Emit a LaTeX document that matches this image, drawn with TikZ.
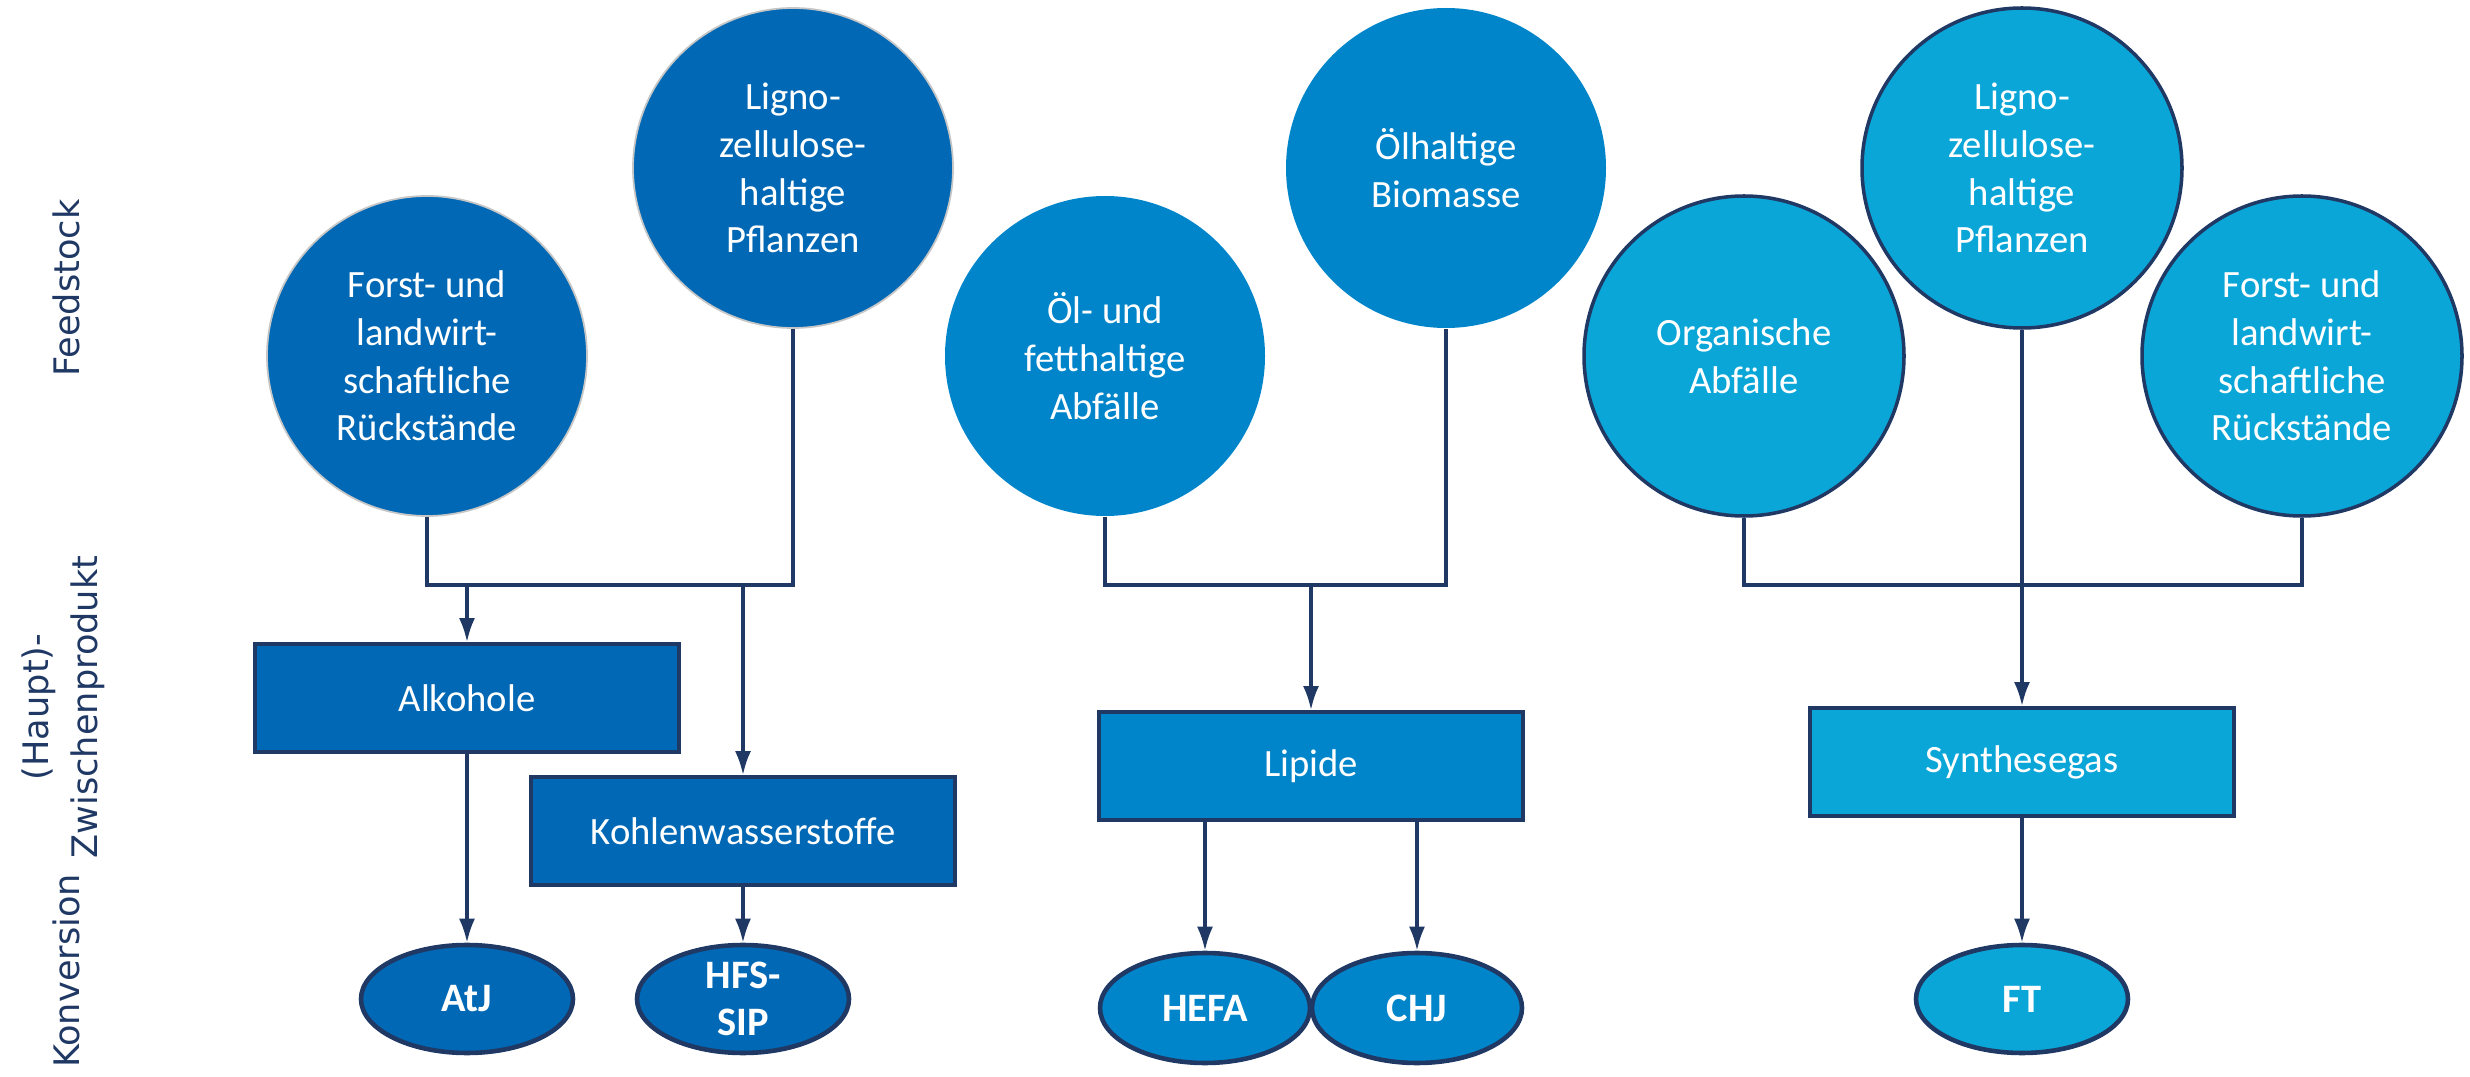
\documentclass[tikz,border=0pt]{standalone}
\usepackage{fontspec}
\setmainfont{Carlito}
\newfontfamily\sidefont{DejaVu Sans}
\usepackage{xcolor}
\usetikzlibrary{shapes.geometric,arrows.meta}
\definecolor{navy}{RGB}{31,56,100}
\definecolor{blueA}{RGB}{0,104,180}
\definecolor{blueB}{RGB}{0,133,202}
\definecolor{blueC}{RGB}{11,166,216}

\begin{document}
\begin{tikzpicture}[
            feed/.style = {circle,
            minimum size = 3.2cm,
            inner sep = 0pt,
            text = white, align = center,
            font = \fontsize{11}{13.6}\selectfont},
            prod/.style = {rectangle,
            draw = navy, line width = 1.1pt,
            minimum width = 4.24cm, minimum height = 1.08cm,
            text = white,
            font = \fontsize{11}{13.6}\selectfont},
            conv/.style = {ellipse,
            draw = navy, line width = 1.3pt,
            minimum width = 2.12cm, minimum height = 1.08cm,
            inner sep = 0pt,
            text = white, align = center,
            font = \fontsize{11.5}{13.4}\selectfont\bfseries},
            side/.style = {rotate = 90, text = navy, align = center,
            font = \sidefont\fontsize{10}{13.8}\selectfont},
            link/.style = {draw = navy, line width = 0.9pt},
            arr/.style = {link, -{Latex[length=2.4mm,width=1.6mm]}}]
        \useasboundingbox (0,0) rectangle (24.70,10.76);

        % Row labels
        \node[side] (lblFeed) at (0.66,7.88) {Feedstock};
        \node[side] (lblZw) at (0.635,3.69) {(Haupt)-\\Zwischenprodukt};
        \node[side] (lblKonv) at (0.66,1.05) {Konversion};

        % Feedstock
        \node[feed, fill=blueA, draw=gray!45, line width=0.5pt] (forstL) at (4.27,7.20) {Forst- und\\landwirt-\\schaftliche\\Rückstände};
        \node[feed, fill=blueA, draw=gray!45, line width=0.5pt] (lignoL) at (7.93,9.08) {Ligno-\\zellulose-\\haltige\\Pflanzen};
        \node[feed, fill=blueB] (oelAbf) at (11.05,7.20) {Öl- und\\fetthaltige\\Abfälle};
        \node[feed, fill=blueB] (oelBio) at (14.46,9.08) {Ölhaltige\\Biomasse};
        \node[feed, fill=blueC, draw=navy, line width=1pt] (organ) at (17.44,7.20) {Organische\\Abfälle};
        \node[feed, fill=blueC, draw=navy, line width=1pt] (lignoR) at (20.22,9.08) {Ligno-\\zellulose-\\haltige\\Pflanzen};
        \node[feed, fill=blueC, draw=navy, line width=1pt] (forstR) at (23.02,7.20) {Forst- und\\landwirt-\\schaftliche\\Rückstände};

        % (Haupt)-Zwischenprodukt
        \node[prod, fill=blueA] (alk) at (4.67,3.78) {Alkohole};
        \node[prod, fill=blueA] (kohle) at (7.43,2.45) {Kohlenwasserstoffe};
        \node[prod, fill=blueB] (lip) at (13.11,3.10) {Lipide};
        \node[prod, fill=blueC] (syn) at (20.22,3.14) {Synthesegas};

        % Konversion
        \node[conv, fill=blueA] (atj) at (4.67,0.77) {AtJ};
        \node[conv, fill=blueA] (hfs) at (7.43,0.77) {HFS-\\SIP};
        \node[conv, fill=blueB, minimum width=2.10cm, minimum height=1.10cm] (hefa) at (12.05,0.68) {HEFA};
        \node[conv, fill=blueB, minimum width=2.10cm, minimum height=1.10cm] (chj) at (14.17,0.68) {CHJ};
        \node[conv, fill=blueC] (ft) at (20.22,0.77) {FT};

        % Collecting bars
        \coordinate (bar) at (0,4.91);
        \draw[link] (forstL.south) |- (bar -| lignoL.south) -- (lignoL.south);
        \draw[link] (oelAbf.south) |- (bar -| oelBio.south) -- (oelBio.south);
        \draw[link] (organ.south) |- (bar -| forstR.south) -- (forstR.south);

        % Arrows
        \draw[arr] (alk.north |- bar) -- (alk.north);
        \draw[arr] (kohle.north |- bar) -- (kohle.north);
        \draw[arr] (lip.north |- bar) -- (lip.north);
        \draw[arr] (lignoR.south) -- (syn.north);
        \draw[arr] (alk.south) -- (atj.north);
        \draw[arr] (kohle.south) -- (hfs.north);
        \draw[arr] (hefa.north |- lip.south) -- (hefa.north);
        \draw[arr] (chj.north |- lip.south) -- (chj.north);
        \draw[arr] (syn.south) -- (ft.north);
    \end{tikzpicture}
\end{document}
